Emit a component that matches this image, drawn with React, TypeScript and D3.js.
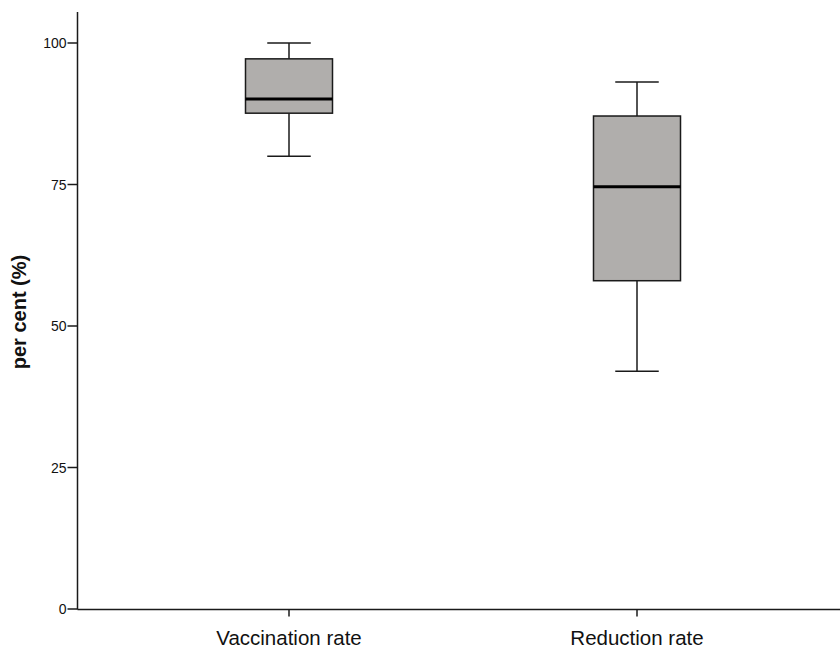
import React from "react";
import * as d3 from "d3";

const categories = ["Vaccination rate", "Reduction rate"];
const whiskerLow = [80, 42];
const q1Values = [87.6, 58];
const medianValues = [90.1, 74.6];
const q3Values = [97.2, 87.1];
const whiskerHigh = [100, 93.1];
const yTicks = [0, 25, 50, 75, 100];

const W = 840;
const H = 650;

export default function App() {
  const y = d3.scaleLinear().domain([0, 100]).range([609, 43]);
  const x = d3.scaleBand<string>().domain(categories).range([115, 811]).padding(0);
  const bw = x.bandwidth() * 0.25;
  const capW = bw / 2;
  const axisX = 77.5;
  const axisY = 609.5;
  const stroke = "#1a1a1a";
  const font = "'Liberation Sans', Arial, Helvetica, sans-serif";

  return (
    <svg width={W} height={H} style={{ position: "absolute", left: 0, top: 0, background: "#fff" }}>
      {/* axes */}
      <line x1={axisX} y1={12} x2={axisX} y2={axisY} stroke={stroke} strokeWidth={1.5} />
      <line x1={axisX} y1={axisY} x2={840} y2={axisY} stroke={stroke} strokeWidth={1.5} />
      {yTicks.map((t) => (
        <g key={t}>
          <line x1={axisX - 10} x2={axisX} y1={y(t)} y2={y(t)} stroke={stroke} strokeWidth={1.5} />
          <text x={axisX - 11} y={y(t)} dy="0.36em" textAnchor="end" fontFamily={font} fontSize={14} fill="#111">
            {t}
          </text>
        </g>
      ))}
      {categories.map((c) => {
        const cx = (x(c) as number) + x.bandwidth() / 2;
        return (
          <g key={c}>
            <line x1={cx} x2={cx} y1={axisY} y2={axisY + 7} stroke={stroke} strokeWidth={1.5} />
            <text x={cx} y={645} textAnchor="middle" fontFamily={font} fontSize={20.5} fill="#111">
              {c}
            </text>
          </g>
        );
      })}
      <text
        transform={`translate(26,${y(50) - 14}) rotate(-90)`}
        textAnchor="middle"
        fontFamily={font}
        fontSize={20}
        fontWeight="bold"
        fill="#111"
      >
        per cent (%)
      </text>
      {/* boxes */}
      {categories.map((c, i) => {
        const cx = (x(c) as number) + x.bandwidth() / 2;
        return (
          <g key={c}>
            <line x1={cx} x2={cx} y1={y(whiskerHigh[i])} y2={y(q3Values[i])} stroke={stroke} strokeWidth={1.5} />
            <line x1={cx} x2={cx} y1={y(q1Values[i])} y2={y(whiskerLow[i])} stroke={stroke} strokeWidth={1.5} />
            <line x1={cx - capW / 2} x2={cx + capW / 2} y1={y(whiskerHigh[i])} y2={y(whiskerHigh[i])} stroke={stroke} strokeWidth={1.5} />
            <line x1={cx - capW / 2} x2={cx + capW / 2} y1={y(whiskerLow[i])} y2={y(whiskerLow[i])} stroke={stroke} strokeWidth={1.5} />
            <rect
              x={cx - bw / 2}
              y={y(q3Values[i])}
              width={bw}
              height={y(q1Values[i]) - y(q3Values[i])}
              fill="#b0aeac"
              stroke={stroke}
              strokeWidth={1.5}
            />
            <line x1={cx - bw / 2} x2={cx + bw / 2} y1={y(medianValues[i])} y2={y(medianValues[i])} stroke="#000" strokeWidth={3} />
          </g>
        );
      })}
    </svg>
  );
}
